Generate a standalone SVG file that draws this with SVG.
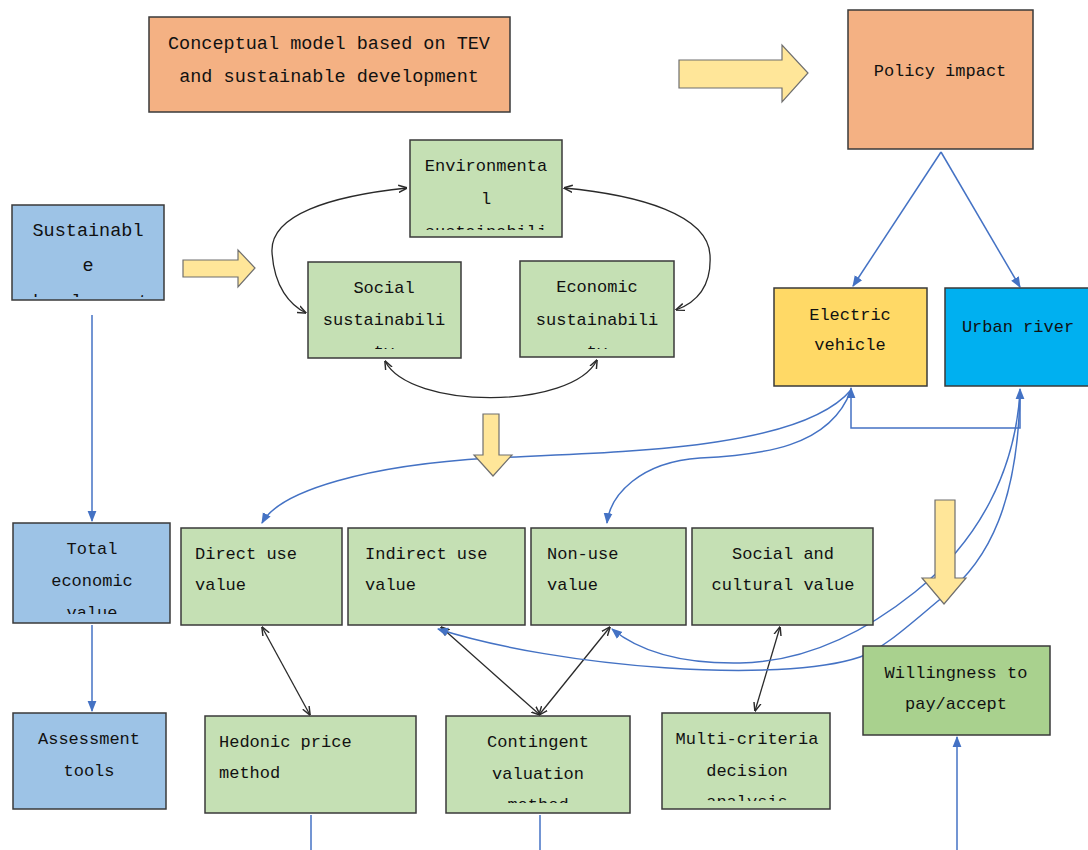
<svg xmlns="http://www.w3.org/2000/svg" width="1088" height="850" viewBox="0 0 1088 850">
<style>
.b{stroke:#3a3a3a;stroke-width:1.5}
.t{font-family:"Liberation Mono",monospace;font-size:17px;fill:#111}
.c{text-anchor:middle}
.big{font-size:18.5px}
.bl{fill:none;stroke:#4472C4;stroke-width:1.5}
.bk{fill:none;stroke:#2a2a2a;stroke-width:1.3}
.ya{fill:#FFE699;stroke:#6f6f6f;stroke-width:1.2}
</style>
<defs>
<marker id="ab" viewBox="0 0 10 10" refX="9" refY="5" markerWidth="11" markerHeight="11" markerUnits="userSpaceOnUse" orient="auto-start-reverse"><path d="M0,1 L10,5 L0,9 z" fill="#4472C4"/></marker>
<marker id="ak" viewBox="0 0 10 10" refX="9.5" refY="5" markerWidth="9" markerHeight="9" markerUnits="userSpaceOnUse" orient="auto-start-reverse"><path d="M0,1 L10,5 L0,9" fill="none" stroke="#2a2a2a" stroke-width="1.6"/></marker>
<clipPath id="cSus"><rect x="12" y="205" width="152" height="92"/></clipPath>
<clipPath id="cEnv"><rect x="410" y="140" width="152" height="90"/></clipPath>
<clipPath id="cSoc"><rect x="308" y="262" width="153" height="87"/></clipPath>
<clipPath id="cEco"><rect x="520" y="261" width="154" height="88"/></clipPath>
<clipPath id="cTot"><rect x="13" y="523" width="157" height="91"/></clipPath>
<clipPath id="cCon"><rect x="446" y="716" width="184" height="87"/></clipPath>
<clipPath id="cMul"><rect x="662" y="713" width="168" height="88"/></clipPath>
</defs>

<g id="connectors">
<!-- black loop connectors -->
<path class="bk" d="M407,188 C330,196 270,215 272,252 C274,287 290,305 306,313" marker-start="url(#ak)" marker-end="url(#ak)"/>
<path class="bk" d="M564,188 C640,195 708,215 710,255 C712,290 692,304 676,310" marker-start="url(#ak)" marker-end="url(#ak)"/>
<path class="bk" d="M385,361 C410,410 572,410 597,360" marker-start="url(#ak)" marker-end="url(#ak)"/>
<!-- black value-method connectors -->
<line class="bk" x1="262" y1="627" x2="310" y2="715" marker-start="url(#ak)" marker-end="url(#ak)"/>
<line class="bk" x1="441" y1="627" x2="540" y2="715" marker-start="url(#ak)" marker-end="url(#ak)"/>
<line class="bk" x1="610" y1="627" x2="539" y2="715" marker-start="url(#ak)" marker-end="url(#ak)"/>
<line class="bk" x1="780" y1="627" x2="755" y2="711" marker-start="url(#ak)" marker-end="url(#ak)"/>
<!-- blue straight connectors -->
<line class="bl" x1="92" y1="315" x2="92" y2="521" marker-end="url(#ab)"/>
<line class="bl" x1="92" y1="625" x2="92" y2="711" marker-end="url(#ab)"/>
<line class="bl" x1="941" y1="152" x2="853" y2="286" marker-end="url(#ab)"/>
<line class="bl" x1="941" y1="152" x2="1020" y2="287" marker-end="url(#ab)"/>
<line class="bl" x1="311" y1="815" x2="311" y2="850"/>
<line class="bl" x1="540" y1="815" x2="540" y2="850"/>
<line class="bl" x1="957" y1="850" x2="957" y2="737" marker-end="url(#ab)"/>
<path class="bl" d="M851,388 V428 H1020 V389" marker-start="url(#ab)" marker-end="url(#ab)"/>
<!-- blue curves from electric vehicle -->
<path class="bl" d="M851,390 C800,450 620,452 490,458 C370,465 280,490 262,523" marker-end="url(#ab)"/>
<path class="bl" d="M851,390 C830,448 760,455 700,458 C640,462 610,495 607,523" marker-end="url(#ab)"/>
<!-- blue curves from urban river -->
<path class="bl" d="M1020,392 C1018,500 990,560 944,596 C910,624 885,648 860,657 C780,684 560,668 438,629" marker-end="url(#ab)"/>
<path class="bl" d="M1020,392 C1015,470 980,540 915,592 C860,636 800,662 740,663 C680,664 640,652 612,629" marker-end="url(#ab)"/>
</g>

<g id="yellow-arrows">
<polygon class="ya" points="679,60 782,60 782,45 808,73 782,102 782,88 679,88"/>
<polygon class="ya" points="183,260 238,260 238,250 255,268 238,287 238,277 183,277"/>
<polygon class="ya" points="483,414 499,414 499,455 512,455 493,476 474,455 483,455"/>
<polygon class="ya" points="935,500 955,500 955,578 966,578 944,604 922,578 935,578"/>
</g>

<g id="title">
<rect class="b" x="149" y="17" width="361" height="95" fill="#F4B183"/>
<text class="t c big" x="329" y="49">Conceptual model based on TEV</text>
<text class="t c big" x="329" y="82">and sustainable development</text>
</g>
<g id="policy">
<rect class="b" x="848" y="10" width="185" height="139" fill="#F4B183"/>
<text class="t c" x="940" y="76">Policy impact</text>
</g>
<g id="sustainable">
<rect class="b" x="12" y="205" width="152" height="95" fill="#9DC3E6"/>
<g clip-path="url(#cSus)">
<text class="t c big" x="88" y="236">Sustainabl</text>
<text class="t c big" x="88" y="271">e</text>
<text class="t c big" x="88" y="307">development</text>
</g>
</g>
<g id="environmental">
<rect class="b" x="410" y="140" width="152" height="97" fill="#C5E0B4"/>
<g clip-path="url(#cEnv)">
<text class="t c" x="486" y="171">Environmenta</text>
<text class="t c" x="486" y="204">l</text>
<text class="t c" x="486" y="237">sustainabili</text>
</g>
</g>
<g id="social">
<rect class="b" x="308" y="262" width="153" height="96" fill="#C5E0B4"/>
<g clip-path="url(#cSoc)">
<text class="t c" x="384" y="293">Social</text>
<text class="t c" x="384" y="325">sustainabili</text>
<text class="t c" x="384" y="357">ty</text>
</g>
</g>
<g id="economic">
<rect class="b" x="520" y="261" width="154" height="96" fill="#C5E0B4"/>
<g clip-path="url(#cEco)">
<text class="t c" x="597" y="292">Economic</text>
<text class="t c" x="597" y="325">sustainabili</text>
<text class="t c" x="597" y="357">ty</text>
</g>
</g>
<g id="electric-vehicle">
<rect class="b" x="774" y="288" width="153" height="98" fill="#FFD966"/>
<text class="t c" x="850" y="320">Electric</text>
<text class="t c" x="850" y="350">vehicle</text>
</g>
<g id="urban-river">
<rect class="b" x="945" y="288" width="150" height="98" fill="#00B0F0"/>
<text class="t c" x="1018" y="332">Urban river</text>
</g>
<g id="total-economic">
<rect class="b" x="13" y="523" width="157" height="100" fill="#9DC3E6"/>
<g clip-path="url(#cTot)">
<text class="t c" x="92" y="554">Total</text>
<text class="t c" x="92" y="586">economic</text>
<text class="t c" x="92" y="618">value</text>
</g>
</g>
<g id="direct-use">
<rect class="b" x="181" y="528" width="161" height="97" fill="#C5E0B4"/>
<text class="t" x="195" y="559">Direct use</text>
<text class="t" x="195" y="590">value</text>
</g>
<g id="indirect-use">
<rect class="b" x="348" y="528" width="177" height="97" fill="#C5E0B4"/>
<text class="t" x="365" y="559">Indirect use</text>
<text class="t" x="365" y="590">value</text>
</g>
<g id="non-use">
<rect class="b" x="531" y="528" width="155" height="97" fill="#C5E0B4"/>
<text class="t" x="547" y="559">Non-use</text>
<text class="t" x="547" y="590">value</text>
</g>
<g id="social-cultural">
<rect class="b" x="692" y="528" width="181" height="97" fill="#C5E0B4"/>
<text class="t c" x="783" y="559">Social and</text>
<text class="t c" x="783" y="590">cultural value</text>
</g>
<g id="willingness">
<rect class="b" x="863" y="646" width="187" height="89" fill="#A9D18E"/>
<text class="t c" x="956" y="678">Willingness to</text>
<text class="t c" x="956" y="709">pay/accept</text>
</g>
<g id="assessment">
<rect class="b" x="13" y="713" width="153" height="96" fill="#9DC3E6"/>
<text class="t c" x="89" y="744">Assessment</text>
<text class="t c" x="89" y="776">tools</text>
</g>
<g id="hedonic">
<rect class="b" x="205" y="716" width="211" height="97" fill="#C5E0B4"/>
<text class="t" x="219" y="747">Hedonic price</text>
<text class="t" x="219" y="778">method</text>
</g>
<g id="contingent">
<rect class="b" x="446" y="716" width="184" height="97" fill="#C5E0B4"/>
<g clip-path="url(#cCon)">
<text class="t c" x="538" y="747">Contingent</text>
<text class="t c" x="538" y="779">valuation</text>
<text class="t c" x="538" y="810">method</text>
</g>
</g>
<g id="multi-criteria">
<rect class="b" x="662" y="713" width="168" height="96" fill="#C5E0B4"/>
<g clip-path="url(#cMul)">
<text class="t c" x="747" y="744">Multi-criteria</text>
<text class="t c" x="747" y="776">decision</text>
<text class="t c" x="747" y="807">analysis</text>
</g>
</g>
</svg>
